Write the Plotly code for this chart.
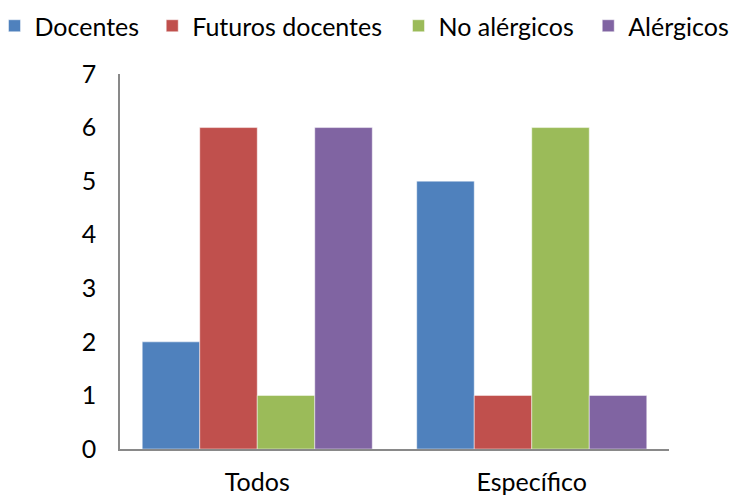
import plotly.graph_objects as go

categories = ["Todos", "Específico"]
series_names = ["Docentes", "Futuros docentes", "No alérgicos", "Alérgicos"]
docentes = [2, 5]
futuros_docentes = [6, 1]
no_alergicos = [1, 6]
alergicos = [6, 1]
colors = ["#4F81BD", "#C0504D", "#9BBB59", "#8064A2"]
y_ticks = [0, 1, 2, 3, 4, 5, 6, 7]

series_values = [docentes, futuros_docentes, no_alergicos, alergicos]

FONT = "Lato, Carlito, Calibri, sans-serif"
legend_ids = ["legend", "legend2", "legend3", "legend4"]
legend_x = [-0.2286, 0.0587, 0.5073, 0.8529]

fig = go.Figure()
for name, vals, col, lid in zip(series_names, series_values, colors, legend_ids):
    fig.add_trace(go.Bar(
        x=categories, y=vals, name=name, legend=lid, showlegend=True,
        marker=dict(color=col, line=dict(color="rgba(255,255,255,0.6)", width=0.8)),
    ))

layout_legends = {}
for lid, lx in zip(legend_ids, legend_x):
    layout_legends[lid] = dict(
        orientation="h", x=lx, xanchor="left", y=1.128, yanchor="middle",
        font=dict(family=FONT, size=25, color="black"),
        itemwidth=30, bgcolor="rgba(0,0,0,0)",
    )

fig.update_layout(
    width=729, height=496,
    margin=dict(l=120, r=60, t=74, b=47, autoexpand=False),
    showlegend=True,
    barmode="group",
    bargap=0.162, bargroupgap=0,
    paper_bgcolor="white", plot_bgcolor="white",
    font=dict(family=FONT, size=25, color="black"),
    xaxis=dict(
        showgrid=False, showline=True, linecolor="#898989", linewidth=1.5,
        ticks="", ticklabelstandoff=10, zeroline=False,
    ),
    yaxis=dict(
        range=[0, 7], tickvals=y_ticks, showgrid=False, showline=True,
        linecolor="#898989", linewidth=1.5, ticks="", ticklabelstandoff=17,
        zeroline=False,
    ),
    **layout_legends,
)

fig.write_html("out.html")
